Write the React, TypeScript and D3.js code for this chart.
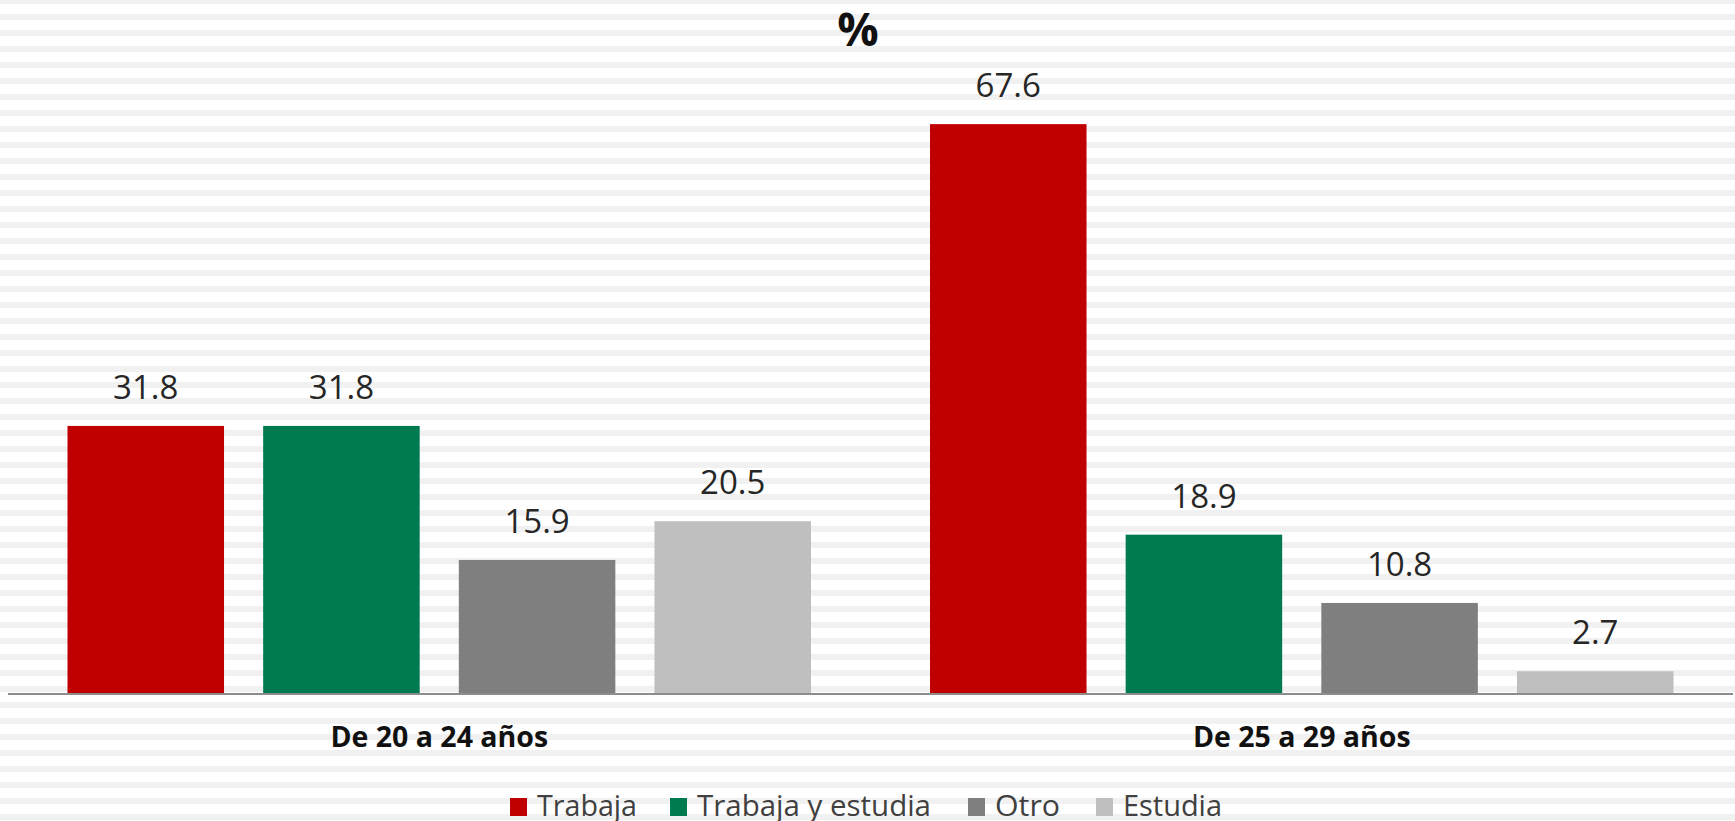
import * as d3 from "d3";
import React, { useEffect, useRef } from "react";

const groups = ["De 20 a 24 años", "De 25 a 29 años"];
const seriesNames = ["Trabaja", "Trabaja y estudia", "Otro", "Estudia"];
const seriesColors = ["#c00000", "#007a4f", "#7f7f7f", "#bfbfbf"];
const trabaja = [31.8, 67.6];
const trabajaYEstudia = [31.8, 18.9];
const otro = [15.9, 10.8];
const estudia = [20.5, 2.7];

const W = 1735;
const H = 821;

export default function App() {
    const ref = useRef<SVGSVGElement>(null);

    useEffect(() => {
        const svg = d3.select(ref.current);
        svg.selectAll("*").remove();

        // striped background
        const defs = svg.append("defs");
        const pat = defs
            .append("pattern")
            .attr("id", "stripes")
            .attr("patternUnits", "userSpaceOnUse")
            .attr("width", 16)
            .attr("height", 16)
            .attr("y", -2);
        pat.append("rect").attr("width", 16).attr("height", 16).attr("fill", "#ffffff");
        pat.append("rect").attr("y", 0).attr("width", 16).attr("height", 6).attr("fill", "#f1f1f1");
        svg.append("rect").attr("width", W).attr("height", H).attr("fill", "url(#stripes)");

        const table = [trabaja, trabajaYEstudia, otro, estudia];
        const data = groups.flatMap((g, gi) =>
            seriesNames.map((s, si) => ({ group: g, series: s, value: table[si][gi], color: seriesColors[si] }))
        );

        const x0 = d3.scaleBand().domain(groups).range([8, 1733]).padding(0);
        const x1 = d3
            .scaleBand()
            .domain(seriesNames)
            .range([59.5, x0.bandwidth() - 59.5])
            .paddingInner(0.2);
        const y = d3.scaleLinear().domain([0, 80]).range([694, 19.6]);

        svg.selectAll(".bar")
            .data(data)
            .enter()
            .append("rect")
            .attr("class", "bar")
            .attr("x", (d) => x0(d.group)! + x1(d.series)!)
            .attr("y", (d) => y(d.value))
            .attr("width", x1.bandwidth())
            .attr("height", (d) => y(0) - y(d.value))
            .attr("fill", (d) => d.color);

        // value labels
        svg.selectAll(".label")
            .data(data)
            .enter()
            .append("text")
            .attr("class", "label")
            .attr("x", (d) => x0(d.group)! + x1(d.series)! + x1.bandwidth() / 2)
            .attr("y", (d) => y(d.value) - 27)
            .attr("text-anchor", "middle")
            .attr("font-family", "Open Sans")
            .attr("font-size", 33)
            .attr("fill", "#262626")
            .text((d) => d.value.toFixed(1));

        // x axis line
        svg.append("line")
            .attr("x1", 8)
            .attr("x2", 1733)
            .attr("y1", y(0))
            .attr("y2", y(0))
            .attr("stroke", "#8c8c8c")
            .attr("stroke-width", 2);

        // category labels
        svg.selectAll(".cat")
            .data(groups)
            .enter()
            .append("text")
            .attr("class", "cat")
            .attr("x", (d) => x0(d)! + x0.bandwidth() / 2)
            .attr("y", 747)
            .attr("text-anchor", "middle")
            .attr("font-family", "Open Sans")
            .attr("font-weight", "bold")
            .attr("font-size", 28.5)
            .attr("fill", "#111")
            .text((d) => d);

        // title
        svg.append("text")
            .attr("x", 858)
            .attr("y", 46)
            .attr("text-anchor", "middle")
            .attr("font-family", "Open Sans")
            .attr("font-weight", "bold")
            .attr("font-size", 46)
            .attr("fill", "#111")
            .text("%");

        // legend
        const legendX = [510, 670, 968, 1096];
        const legendW = [100, 234, 65, 99];
        const leg = svg
            .selectAll(".leg")
            .data(seriesNames)
            .enter()
            .append("g")
            .attr("class", "leg")
            .attr("transform", (d, i) => `translate(${legendX[i]},0)`);
        leg.append("rect")
            .attr("y", 798)
            .attr("width", 17)
            .attr("height", 18)
            .attr("fill", (d, i) => seriesColors[i]);
        leg.append("text")
            .attr("x", 27)
            .attr("y", 816)
            .attr("font-family", "Open Sans")
            .attr("font-size", 30)
            .attr("fill", "#404040")
            .attr("textLength", (d, i) => legendW[i])
            .attr("lengthAdjust", "spacingAndGlyphs")
            .text((d) => d);
    }, []);

    return (
        <svg
            ref={ref}
            width={W}
            height={H}
            style={{ position: "absolute", left: 0, top: 0, display: "block" }}
        ></svg>
    );
}
